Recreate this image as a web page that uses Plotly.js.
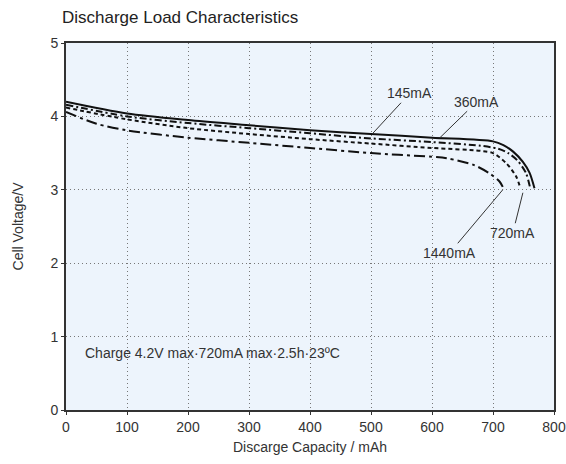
<!DOCTYPE html>
<html>
<head>
<meta charset="utf-8">
<script src="https://cdn.plot.ly/plotly-3.0.1.min.js"></script>
<style>html,body{margin:0;padding:0;background:#fff;}#chart{width:566px;height:464px;}</style>
</head>
<body>
<div id="chart"></div>
<script>
const cap145 = [0, 100, 200, 300, 400, 500, 600, 700, 717, 733, 749, 760, 768];
const volt145 = [4.20, 4.04, 3.95, 3.88, 3.81, 3.76, 3.71, 3.66, 3.61, 3.52, 3.38, 3.23, 3.02];

const cap360 = [0, 100, 200, 300, 400, 500, 600, 680, 708, 725, 740, 754, 761];
const volt360 = [4.16, 4.00, 3.91, 3.84, 3.77, 3.70, 3.65, 3.60, 3.56, 3.50, 3.40, 3.23, 3.02];

const cap720 = [0, 100, 200, 300, 400, 500, 600, 680, 700, 722, 738, 745];
const volt720 = [4.12, 3.96, 3.84, 3.76, 3.69, 3.63, 3.57, 3.53, 3.50, 3.36, 3.18, 3.02];

const cap1440 = [0, 50, 100, 200, 300, 400, 500, 600, 624, 668, 695, 711, 716];
const volt1440 = [4.06, 3.90, 3.81, 3.71, 3.64, 3.57, 3.50, 3.45, 3.43, 3.34, 3.22, 3.11, 3.04];

const xTicks = [0, 100, 200, 300, 400, 500, 600, 700, 800];
const yTicks = [0, 1, 2, 3, 4, 5];

const labels = ["145mA", "360mA", "720mA", "1440mA"];

const ink = "#111";
function tr(x, y, dash, name) {
  return {x: x, y: y, mode: "lines", name: name, type: "scatter",
    line: {color: ink, width: 2, dash: dash, shape: "spline", smoothing: 0.8},
    hoverinfo: "skip"};
}

const data = [
  tr(cap145, volt145, "solid", labels[0]),
  tr(cap360, volt360, "7px,3px,2px,3px", labels[1]),
  tr(cap720, volt720, "4px,3px", labels[2]),
  tr(cap1440, volt1440, "11px,4px,3px,4px", labels[3])
];

const fnt = {family: "Liberation Sans, Arial, sans-serif", size: 14, color: "#333"};

function lab(text, x, y, ax, ay) {
  return {text: text, x: x, y: y, xref: "x", yref: "y", ax: ax, ay: ay,
    showarrow: true, arrowhead: 0, arrowwidth: 1, arrowcolor: "#333",
    font: fnt, standoff: 0};
}

const layout = {
  width: 566, height: 464,
  margin: {l: 66, r: 12, t: 43, b: 54},
  paper_bgcolor: "#fff",
  plot_bgcolor: "#edf4fc",
  showlegend: false,
  title: {text: "Discharge Load Characteristics", x: 62/566, xanchor: "left",
    y: 1 - 17/464, yanchor: "middle", xref: "container", yref: "container",
    font: {family: "Liberation Sans, Arial, sans-serif", size: 17, color: "#222"}},
  xaxis: {range: [0, 800], tickvals: xTicks, ticktext: xTicks.map(String),
    showgrid: true, gridcolor: "#777", griddash: "1px,3px", gridwidth: 1,
    showline: true, linecolor: "#333", linewidth: 2, mirror: true,
    ticks: "outside", ticklen: 3, tickcolor: "#333", zeroline: false,
    tickfont: fnt,
    title: {text: "Discarge Capacity / mAh", font: fnt, standoff: 8}},
  yaxis: {range: [0, 5], tickvals: yTicks, ticktext: yTicks.map(String),
    showgrid: true, gridcolor: "#777", griddash: "1px,3px", gridwidth: 1,
    showline: true, linecolor: "#333", linewidth: 2, mirror: true,
    ticks: "outside", ticklen: 3, tickcolor: "#333", zeroline: false,
    tickfont: fnt,
    title: {text: "Cell Voltage/V", font: fnt, standoff: 24}},
  annotations: [
    lab(labels[0], 503, 3.77, 37, -40),
    lab(labels[1], 613, 3.71, 37, -36),
    lab(labels[3], 716, 3.0, -53, 63),
    lab(labels[2], 749, 2.96, -10, 40),
    {text: "Charge 4.2V max\u00b7720mA max\u00b72.5h\u00b723\u00baC", x: 0.035, y: 0.78,
      xref: "x domain", yref: "y", xanchor: "left", yanchor: "middle",
      showarrow: false, font: fnt}
  ]
};

Plotly.newPlot("chart", data, layout, {displayModeBar: false, staticPlot: true});
</script>
</body>
</html>
